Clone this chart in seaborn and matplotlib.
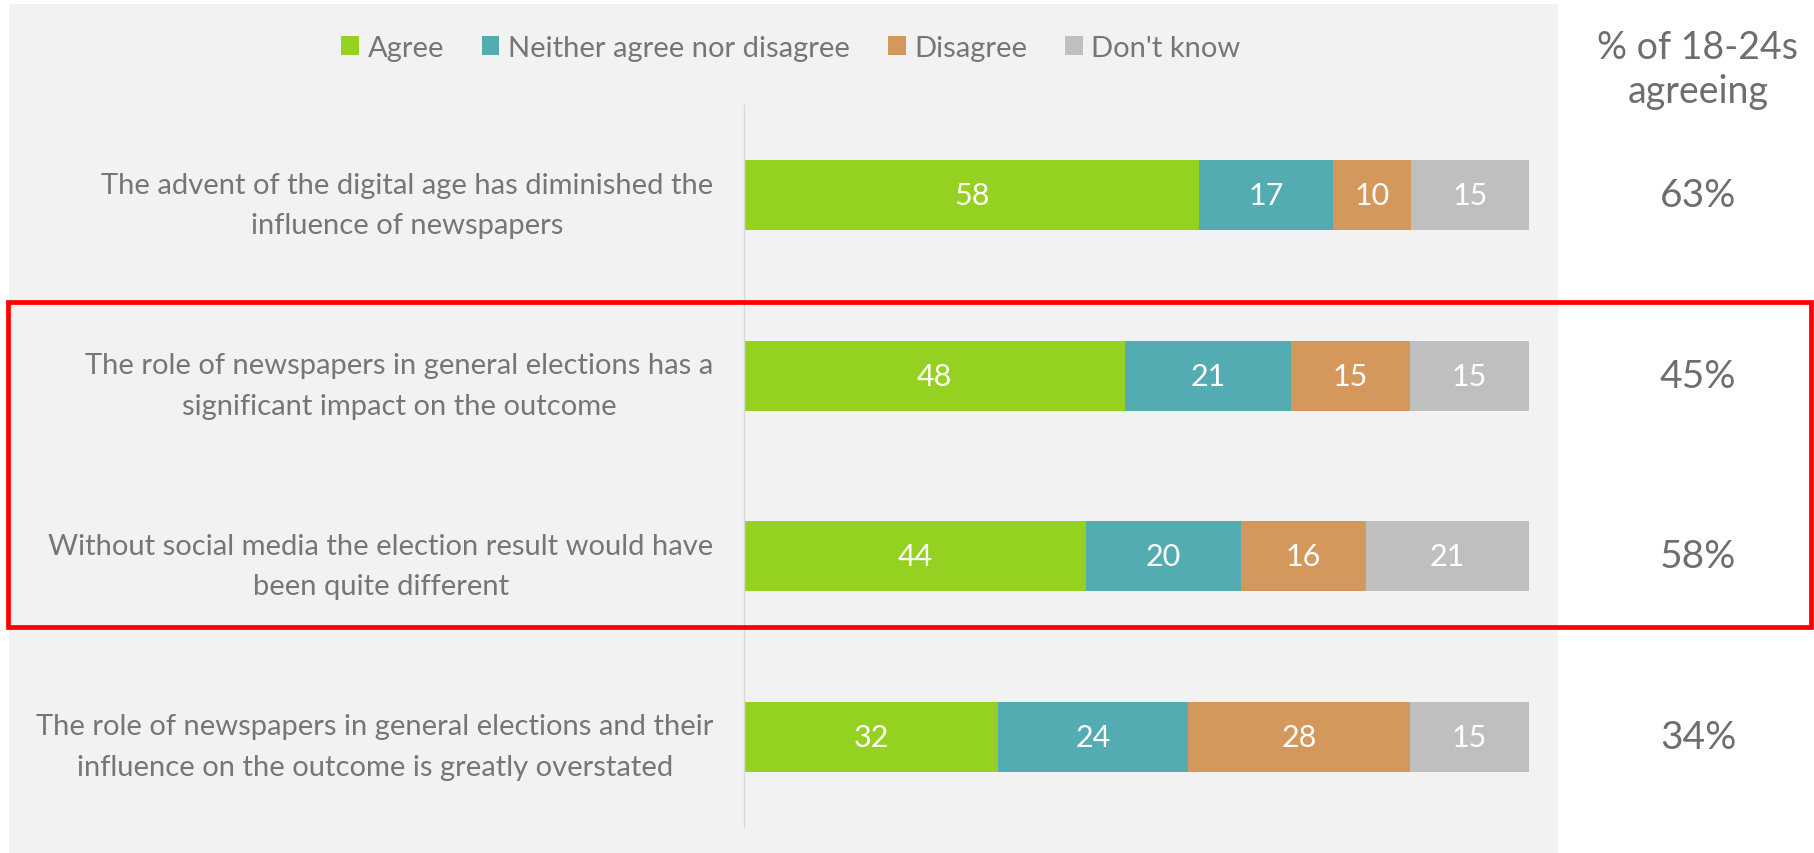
import numpy as np
import pandas as pd
import matplotlib.pyplot as plt
import matplotlib.patches as patches
import seaborn as sns

# Survey statements and answers (%)
statements = [
    "The advent of the digital age has diminished the\ninfluence of newspapers",
    "The role of newspapers in general elections has a\nsignificant impact on the outcome",
    "Without social media the election result would have\nbeen quite different",
    "The role of newspapers in general elections and their\ninfluence on the outcome is greatly overstated",
]
agree = [58, 48, 44, 32]
neither = [17, 21, 20, 24]
disagree = [10, 15, 16, 28]
dont_know = [15, 15, 21, 15]
young_agree = ["63%", "45%", "58%", "34%"]
series_names = ["Agree", "Neither agree nor disagree", "Disagree", "Don't know"]
side_title = "% of 18-24s\nagreeing"

colors = ["#95d121", "#53acb1", "#d4975c", "#bfbfbf"]
text_grey = "#767676"
W, H = 1815, 854

sns.set_style("white")
plt.rcParams["font.family"] = ["Lato", "DejaVu Sans"]

vals = pd.DataFrame({n: v for n, v in zip(series_names, [agree, neither, disagree, dont_know])},
                    index=statements)
# 100% stacked: scale each row to its total
shares = vals.div(vals.sum(axis=1), axis=0) * 100
cum = shares.cumsum(axis=1)

fig = plt.figure(figsize=(W / 100, H / 100), dpi=100, facecolor="white")

# grey panel behind the chart
fig.add_artist(patches.Rectangle((9 / W, 0), (1558 - 9) / W, (H - 5) / H,
                                 transform=fig.transFigure, facecolor="#f2f2f2",
                                 edgecolor="none", zorder=0))

ax = fig.add_axes([744 / W, 1 - 828 / H, (1529 - 744) / W, (828 - 106) / H])
ax.set_facecolor("none")

# draw the stacks from the right end backwards so each segment shows
for name, col in reversed(list(zip(series_names, colors))):
    sns.barplot(x=cum[name].values, y=statements, orient="h", color=col,
                saturation=1, width=0.39, linewidth=0, errorbar=None, ax=ax)

for i, st in enumerate(statements):
    left = 0
    for name in series_names:
        w = shares.loc[st, name]
        ax.text(left + w / 2, i, str(vals.loc[st, name]), ha="center", va="center",
                color="white", fontsize=22)
        left += w

ax.set_xlim(0, 100)
ax.set_ylim(3.5, -0.5)
ax.set_xlabel("")
ax.set_ylabel("")
ax.set_xticks([])
ax.set_yticks(range(len(statements)))
ax.set_yticklabels(statements, fontsize=21, color=text_grey, multialignment="center",
                   linespacing=1.7)
ax.tick_params(axis="y", length=0, pad=22)
for s in ["top", "right", "bottom"]:
    ax.spines[s].set_visible(False)
ax.spines["left"].set_color("#d9d9d9")
ax.spines["left"].set_linewidth(1)

# legend across the top
handles = [patches.Patch(facecolor=c, edgecolor="none") for c in colors]
fig.legend(handles, series_names, loc="center", bbox_to_anchor=(791 / W, 1 - 49 / H),
           ncol=4, frameon=False, fontsize=21, labelcolor=text_grey,
           handlelength=0.6, handleheight=0.6, handletextpad=0.3, columnspacing=1.3)

# right-hand column: share of 18-24s agreeing
fig.text(1698 / W, 1 - 70 / H, side_title, ha="center", va="center", fontsize=27,
         color="#6e6e6e", linespacing=1.3)
for i, v in enumerate(young_agree):
    y_fig = ax.transData.transform((0, i))[1] / H
    fig.text(1698 / W, y_fig, v, ha="center", va="center", fontsize=28, color="#6e6e6e")

# red highlight box around the two middle statements
fig.add_artist(patches.Rectangle((8.5 / W, 1 - 628 / H), (1811 - 8.5) / W, (628 - 303) / H,
                                 transform=fig.transFigure, fill=False,
                                 edgecolor="#ff0000", linewidth=3.4, zorder=10))

fig.savefig("out.png", dpi=100)
